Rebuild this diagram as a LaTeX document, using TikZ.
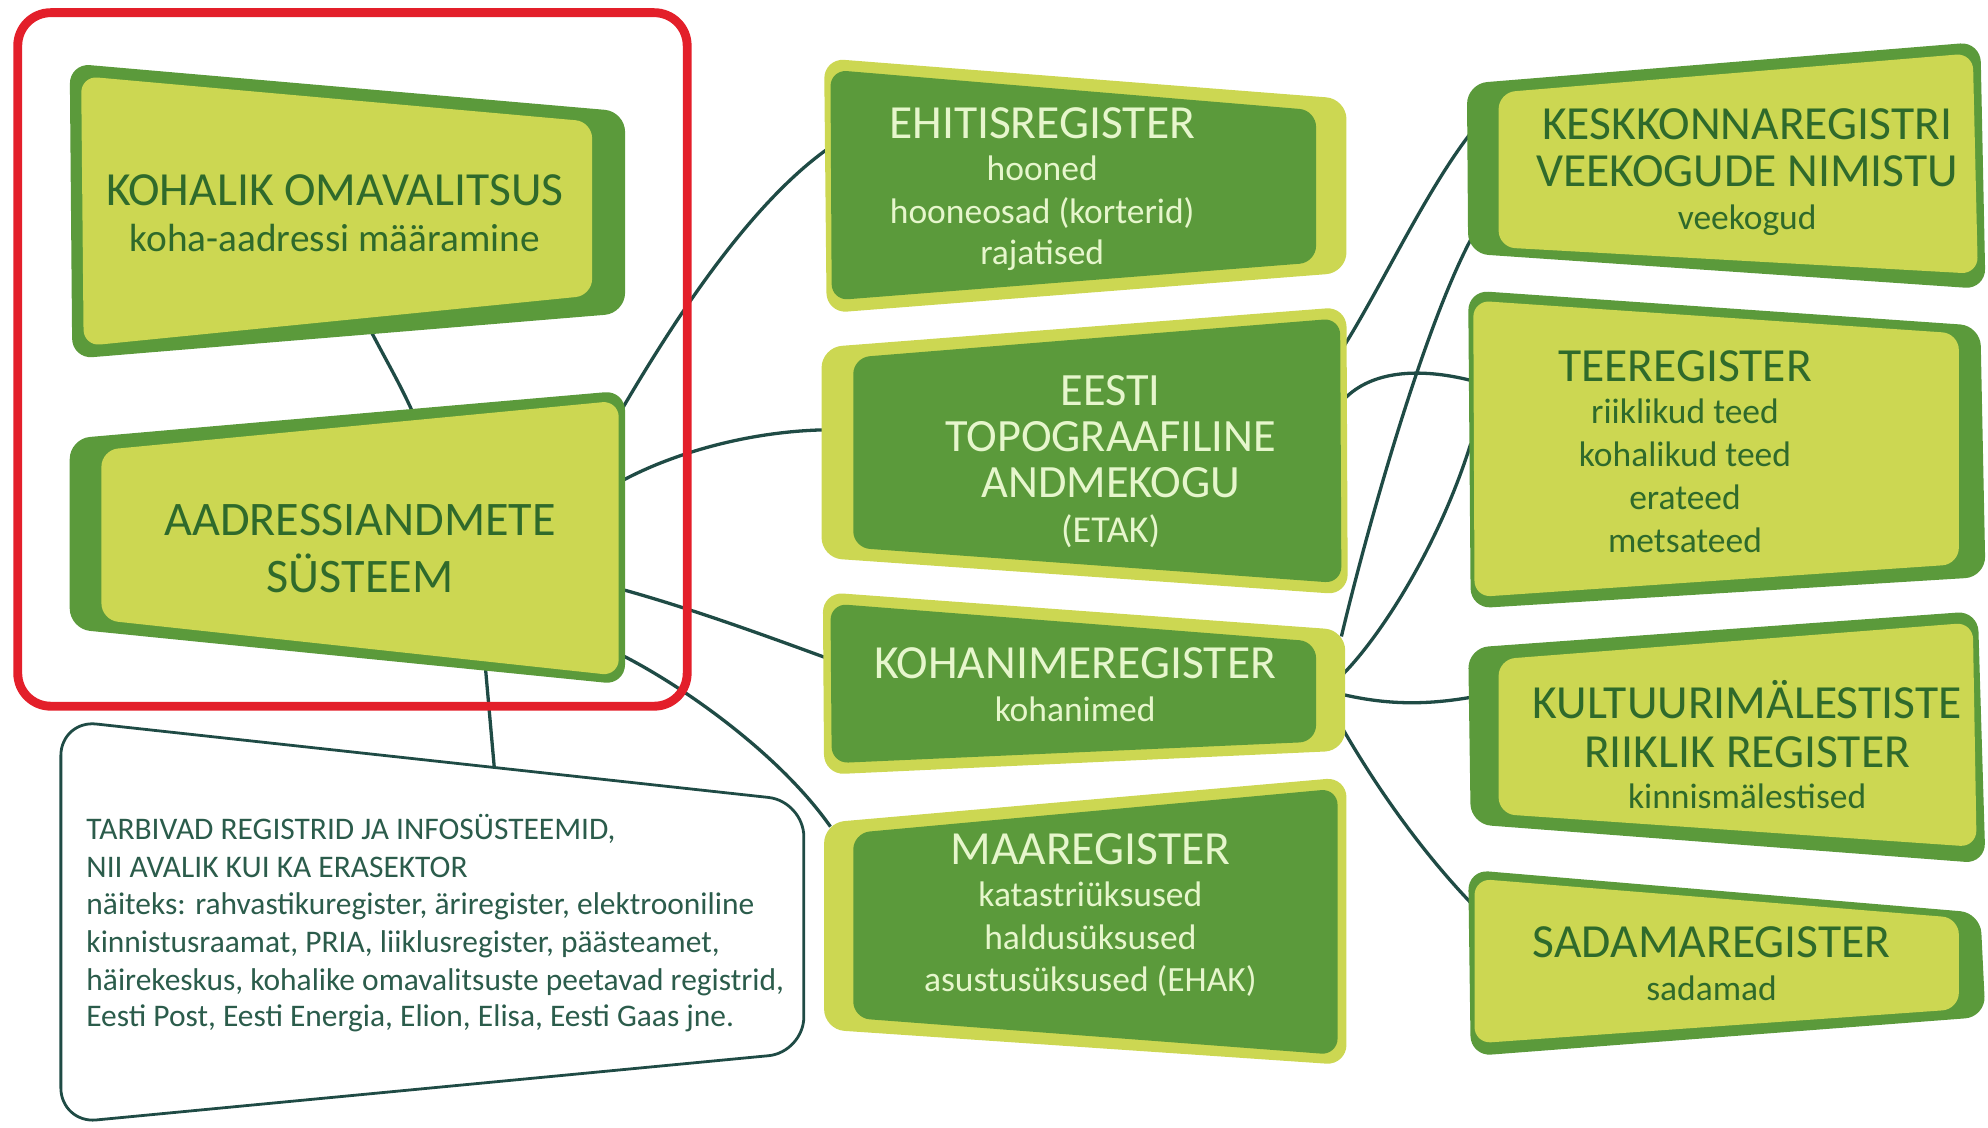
\documentclass[tikz,border=0pt]{standalone}
\usepackage{fontspec}
\setmainfont{Carlito}
\definecolor{dkg}{HTML}{5B9A3B}
\definecolor{ltg}{HTML}{CCD752}
\definecolor{txd}{HTML}{2F6A2B}
\definecolor{txl}{HTML}{E6F6CC}
\definecolor{lnc}{HTML}{1F4B45}
\definecolor{redc}{HTML}{E31F2A}
\definecolor{txc}{HTML}{2B5C4B}
\begin{document}
\begin{tikzpicture}[x=1pt,y=-1pt,
  conn/.style={draw=lnc,line width=2.6pt},
  outerd/.style={fill=dkg,rounded corners=16pt},
  innerl/.style={fill=ltg,rounded corners=13pt},
  outerl/.style={fill=ltg,rounded corners=16pt},
  innerd/.style={fill=dkg,rounded corners=13pt},
  ttl/.style={inner sep=0pt,anchor=base,font=\fontsize{37.5}{40}\selectfont},
  sub/.style={inner sep=0pt,anchor=base,font=\fontsize{28}{30}\selectfont},
  dk/.style={text=txd}, lt/.style={text=txl},
  cons/.style={inner sep=0pt,anchor=base west,text=txc,font=\fontsize{24.8}{27}\selectfont}]
\useasboundingbox (0,0) rectangle (1568,889);

% connector end points
\coordinate (K-s) at (293,262);
\coordinate (A-n) at (325,324);
\coordinate (A-e1) at (491,322);
\coordinate (A-e2) at (491,379);
\coordinate (A-e3) at (491,465);
\coordinate (A-e4) at (491,517);
\coordinate (A-s) at (383,528);
\coordinate (C-n) at (390,607);
\coordinate (EH-w) at (652,118);
\coordinate (ET-w) at (652,339);
\coordinate (ET-e1) at (1060,273);
\coordinate (ET-e2) at (1060,315);
\coordinate (KN-w) at (652,519);
\coordinate (KN-e1) at (1058,502);
\coordinate (KN-e2) at (1060,531);
\coordinate (KN-e3) at (1060,548);
\coordinate (KN-e4) at (1058,573);
\coordinate (MA-w) at (655,652);
\coordinate (KE-w1) at (1160,105);
\coordinate (KE-w2) at (1160,189);
\coordinate (TE-w1) at (1160,300);
\coordinate (TE-w2) at (1160,350);
\coordinate (KU-w) at (1160,550);
\coordinate (SA-w) at (1160,712);

% connectors
\draw[conn] (K-s) .. controls (305,285) and (315,302) .. (A-n);
\draw[conn] (A-e1) .. controls (528,259) and (588,164) .. (EH-w);
\draw[conn] (A-e2) .. controls (530,358) and (590,340) .. (ET-w);
\draw[conn] (A-e3) .. controls (545,480) and (600,500) .. (KN-w);
\draw[conn] (A-e4) .. controls (540,542) and (615,595) .. (MA-w);
\draw[conn] (A-s) -- (C-n);
\draw[conn] (ET-e1) .. controls (1090,225) and (1125,150) .. (KE-w1);
\draw[conn] (KN-e1) .. controls (1075,430) and (1120,265) .. (KE-w2);
\draw[conn] (ET-e2) .. controls (1082,292) and (1120,290) .. (TE-w1);
\draw[conn] (KN-e2) .. controls (1090,500) and (1135,430) .. (TE-w2);
\draw[conn] (KN-e3) .. controls (1095,556) and (1125,556) .. (KU-w);
\draw[conn] (KN-e4) .. controls (1085,620) and (1120,670) .. (SA-w);

% consumer box
\draw[lnc,line width=2.2pt,rounded corners=28pt,fill=white] (48,568) -- (634,632) -- (634,830) -- (48,886) -- cycle;

% left boxes
\fill[outerd] (55,50) -- (493,88) -- (493,247) -- (57,283) -- cycle;
\fill[innerl] (64,60) -- (467,96) -- (467,233) -- (66,273) -- cycle;
\fill[outerd] (55,346) -- (493,308) -- (493,540) -- (55,496) -- cycle;
\fill[innerl] (80,355) -- (488,316) -- (488,533) -- (80,489) -- cycle;

% middle boxes
\fill[outerl] (650,46) -- (1062,78) -- (1062,215) -- (652,247) -- cycle;
\fill[innerd] (655,55) -- (1038,87) -- (1038,207) -- (656,237) -- cycle;
\fill[outerl] (648,274) -- (1062,242) -- (1063,469) -- (648,440) -- cycle;
\fill[innerd] (673,282) -- (1057,251) -- (1058,460) -- (673,432) -- cycle;
\fill[outerl] (649,467) -- (1061,497) -- (1061,592) -- (650,611) -- cycle;
\fill[innerd] (655,476) -- (1038,506) -- (1038,585) -- (656,602) -- cycle;
\fill[outerl] (650,649) -- (1062,613) -- (1062,840) -- (650,812) -- cycle;
\fill[innerd] (673,657) -- (1055,622) -- (1055,832) -- (673,803) -- cycle;

% right boxes
\fill[outerd] (1157,66) -- (1562,33) -- (1566,228) -- (1158,200) -- cycle;
\fill[innerl] (1182,73) -- (1556,42) -- (1560,216) -- (1182,195) -- cycle;
\fill[outerd] (1158,229) -- (1562,257) -- (1566,455) -- (1160,480) -- cycle;
\fill[innerl] (1162,237) -- (1545,263) -- (1545,445) -- (1163,471) -- cycle;
\fill[outerd] (1158,511) -- (1560,482) -- (1566,681) -- (1160,650) -- cycle;
\fill[innerl] (1182,520) -- (1556,491) -- (1559,668) -- (1182,642) -- cycle;
\fill[outerd] (1158,686) -- (1562,720) -- (1566,802) -- (1160,833) -- cycle;
\fill[innerl] (1163,693) -- (1545,724) -- (1545,796) -- (1163,823) -- cycle;

% texts
\node[ttl,dk] (k1) at (264,162) {KOHALIK OMAVALITSUS};
\node[sub,dk,font=\fontsize{31}{32}\selectfont] (k2) at (264,198) {koha-aadressi määramine};
\node[ttl,dk,font=\fontsize{38}{40}\selectfont] (a1) at (284,422) {AADRESSIANDMETE};
\node[ttl,dk,font=\fontsize{38}{40}\selectfont] (a2) at (284,467) {SÜSTEEM};

\node[ttl,lt] (e1) at (822,109) {EHITISREGISTER};
\node[sub,lt] (e2) at (822,142) {hooned};
\node[sub,lt] (e3) at (822,176) {hooneosad (korterid)};
\node[sub,lt] (e4) at (822,209) {rajatised};

\node[ttl,lt,font=\fontsize{36.5}{40}\selectfont] (t1) at (876,320) {EESTI};
\node[ttl,lt,font=\fontsize{36.5}{40}\selectfont] (t2) at (876,356) {TOPOGRAAFILINE};
\node[ttl,lt,font=\fontsize{36.5}{40}\selectfont] (t3) at (876,392) {ANDMEKOGU};
\node[sub,lt,font=\fontsize{30}{30}\selectfont] (t4) at (876,428) {(ETAK)};

\node[ttl,lt] (n1) at (848,535) {KOHANIMEREGISTER};
\node[sub,lt] (n2) at (848,569) {kohanimed};

\node[ttl,lt] (m1) at (860,682) {MAAREGISTER};
\node[sub,lt] (m2) at (860,715) {katastriüksused};
\node[sub,lt] (m3) at (860,749) {haldusüksused};
\node[sub,lt] (m4) at (860,782) {asustusüksused (EHAK)};

\node[ttl,dk] (s1) at (1378,110) {KESKKONNAREGISTRI};
\node[ttl,dk] (s2) at (1378,147) {VEEKOGUDE NIMISTU};
\node[sub,dk] (s3) at (1378,181) {veekogud};

\node[ttl,dk] (r1) at (1329,301) {TEEREGISTER};
\node[sub,dk] (r2) at (1329,334) {riiklikud teed};
\node[sub,dk] (r3) at (1329,368) {kohalikud teed};
\node[sub,dk] (r4) at (1329,402) {erateed};
\node[sub,dk] (r5) at (1329,436) {metsateed};

\node[ttl,dk] (u1) at (1378,567) {KULTUURIMÄLESTISTE};
\node[ttl,dk] (u2) at (1378,605) {RIIKLIK REGISTER};
\node[sub,dk] (u3) at (1378,638) {kinnismälestised};

\node[ttl,dk] (d1) at (1350,755) {SADAMAREGISTER};
\node[sub,dk] (d2) at (1350,789) {sadamad};

\node[cons] (c1) at (68,662) {TARBIVAD REGISTRID JA INFOSÜSTEEMID,};
\node[cons] (c2) at (68,692) {NII AVALIK KUI KA ERASEKTOR};
\node[cons] (c3) at (68,721) {näiteks: rahvastikuregister, äriregister, elektrooniline};
\node[cons] (c4) at (68,751) {kinnistusraamat, PRIA, liiklusregister, päästeamet,};
\node[cons] (c5) at (68,781) {häirekeskus, kohalike omavalitsuste peetavad registrid,};
\node[cons] (c6) at (68,810) {Eesti Post, Eesti Energia, Elion, Elisa, Eesti Gaas jne.};

% red frame
\draw[redc,line width=7pt,rounded corners=26pt] (14,10) rectangle (542,557);
\end{tikzpicture}
\end{document}
